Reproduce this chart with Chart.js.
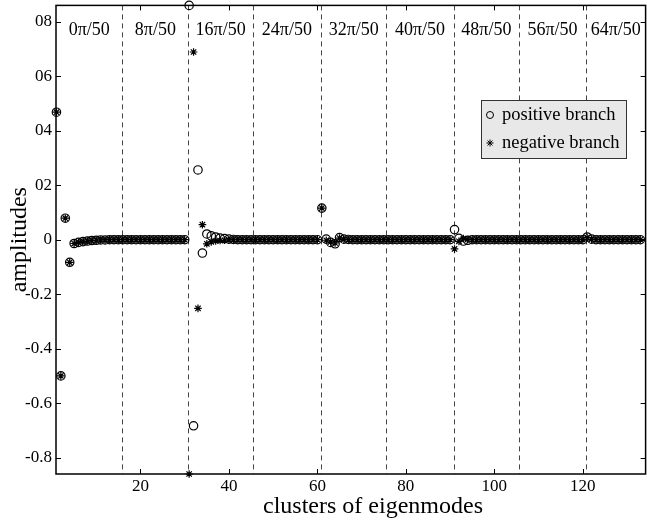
<!DOCTYPE html>
<html>
<head>
<meta charset="utf-8">
<script src="https://cdn.jsdelivr.net/npm/chart.js@4.4.1/dist/chart.umd.min.js"></script>
<style>
  html, body { margin: 0; padding: 0; background: #fff; overflow: hidden; }
  #wrap { width: 647px; height: 524px; overflow: hidden; }
</style>
</head>
<body>
<div id="wrap"><canvas id="chart" width="651" height="524" style="width:651px;height:524px"></canvas></div>
<script>
// one row per cluster of 15 eigenmodes (x = 1..133)
const positiveBranch = [
  0.468, -0.500, 0.079, -0.083, -0.014, -0.010, -0.007, -0.005, -0.003, -0.002, -0.001, -0.001, 0, 0, 0,
  0, 0, 0, 0, 0, 0, 0, 0, 0, 0, 0, 0, 0, 0, 0,
  0.860, -0.683, 0.256, -0.049, 0.021, 0.014, 0.010, 0.006, 0.004, 0.002, 0.001, 0, 0, 0, 0,
  0, 0, 0, 0, 0, 0, 0, 0, 0, 0, 0, 0, 0, 0, 0,
  0.116, 0.002, -0.010, -0.015, 0.008, 0.002, 0.001, 0, 0, 0, 0, 0, 0, 0, 0,
  0, 0, 0, 0, 0, 0, 0, 0, 0, 0, 0, 0, 0, 0, 0,
  0.037, 0.005, -0.005, -0.002, 0, 0, 0, 0, 0, 0, 0, 0, 0, 0, 0,
  0, 0, 0, 0, 0, 0, 0, 0, 0, 0, 0, 0, 0, 0, 0,
  0.010, 0.002, 0, 0, 0, 0, 0, 0, 0, 0, 0, 0, 0
];
const negativeBranch = [
  0.468, -0.500, 0.079, -0.083, -0.014, -0.010, -0.007, -0.005, -0.003, -0.002, -0.001, -0.001, 0, 0, 0,
  0, 0, 0, 0, 0, 0, 0, 0, 0, 0, 0, 0, 0, 0, 0,
  -0.860, 0.689, -0.252, 0.055, -0.015, -0.008, -0.005, -0.003, -0.002, -0.001, 0, 0, 0, 0, 0,
  0, 0, 0, 0, 0, 0, 0, 0, 0, 0, 0, 0, 0, 0, 0,
  0.116, -0.002, -0.008, -0.012, 0.006, 0.001, 0, 0, 0, 0, 0, 0, 0, 0, 0,
  0, 0, 0, 0, 0, 0, 0, 0, 0, 0, 0, 0, 0, 0, 0,
  -0.034, -0.006, 0.004, 0.001, 0, 0, 0, 0, 0, 0, 0, 0, 0, 0, 0,
  0, 0, 0, 0, 0, 0, 0, 0, 0, 0, 0, 0, 0, 0, 0,
  0.008, 0.001, 0, 0, 0, 0, 0, 0, 0, 0, 0, 0, 0
];
const separators = [15.9, 30.85, 45.4, 60.8, 75.6, 90.8, 105.6, 120.7];
const segmentLabels = ["0\u03c0/50", "8\u03c0/50", "16\u03c0/50", "24\u03c0/50", "32\u03c0/50", "40\u03c0/50", "48\u03c0/50", "56\u03c0/50", "64\u03c0/50"];
const xTickValues = [20, 40, 60, 80, 100, 120];
const yTickValues = [-0.8, -0.6, -0.4, -0.2, 0, 0.2, 0.4, 0.6, 0.8];
const yTickLabels = ["-0.8", "-0.6", "-0.4", "-0.2", "0", "02", "04", "06", "08"];

const SERIF = '"Liberation Serif", "Times New Roman", serif';

const toPoints = (arr) => arr.map((v, i) => ({ x: i + 1, y: v }));

const framePlugin = {
  id: "frame",
  beforeDatasetsDraw(chart) {
    const { ctx, chartArea: a, scales: { x, y } } = chart;
    ctx.save();
    // dashed cluster separators
    ctx.strokeStyle = "#444";
    ctx.lineWidth = 1;
    ctx.setLineDash([5, 4]);
    separators.forEach((v) => {
      const px = Math.round(x.getPixelForValue(v)) + 0.5;
      ctx.beginPath();
      ctx.moveTo(px, a.top);
      ctx.lineTo(px, a.bottom);
      ctx.stroke();
    });
    ctx.setLineDash([]);

    // segment labels
    ctx.fillStyle = "#000";
    ctx.font = "18px " + SERIF;
    ctx.textAlign = "center";
    ctx.textBaseline = "alphabetic";
    const edges = [x.min, ...separators, x.max];
    segmentLabels.forEach((t, i) => {
      const cx = (x.getPixelForValue(edges[i]) + x.getPixelForValue(edges[i + 1])) / 2;
      ctx.fillText(t, cx, a.top + 30);
    });

    // box
    ctx.strokeStyle = "#000";
    ctx.lineWidth = 1.5;
    ctx.strokeRect(a.left, a.top, a.right - a.left, a.bottom - a.top);

    // inward ticks
    ctx.lineWidth = 1;
    const tl = 5;
    xTickValues.forEach((v) => {
      const px = Math.round(x.getPixelForValue(v)) + 0.5;
      ctx.beginPath();
      ctx.moveTo(px, a.bottom); ctx.lineTo(px, a.bottom - tl);
      ctx.moveTo(px, a.top); ctx.lineTo(px, a.top + tl);
      ctx.stroke();
    });
    yTickValues.forEach((v) => {
      const py = Math.round(y.getPixelForValue(v)) + 0.5;
      ctx.beginPath();
      ctx.moveTo(a.left, py); ctx.lineTo(a.left + tl, py);
      ctx.moveTo(a.right, py); ctx.lineTo(a.right - tl, py);
      ctx.stroke();
    });

    // x axis title
    ctx.font = "24px " + SERIF;
    ctx.textBaseline = "middle";
    ctx.fillText("clusters of eigenmodes", 373, 507);
    ctx.restore();
  },
  afterDraw(chart) {
    const { ctx } = chart;
    const box = { left: 481, top: 100, width: 145, height: 58 };
    ctx.save();
    ctx.fillStyle = "#e8e8e8";
    ctx.fillRect(box.left, box.top, box.width, box.height);
    ctx.strokeStyle = "#333";
    ctx.lineWidth = 1;
    ctx.strokeRect(box.left + 0.5, box.top + 0.5, box.width, box.height);
    chart.data.datasets.forEach((ds, i) => {
      const cy = box.top + 15 + i * 28;
      ctx.strokeStyle = "#000";
      ctx.fillStyle = "rgba(0,0,0,0)";
      ctx.lineWidth = 1;
      Chart.helpers.drawPoint(ctx, { pointStyle: ds.pointStyle, radius: 3.5, rotation: 0, borderWidth: 1 }, box.left + 9, cy);
      ctx.fillStyle = "#000";
      ctx.font = "18.5px " + SERIF;
      ctx.textAlign = "left";
      ctx.textBaseline = "middle";
      ctx.fillText(ds.label, box.left + 21, cy);
    });
    ctx.restore();
  }
};

new Chart(document.getElementById("chart"), {
  type: "scatter",
  data: {
    datasets: [
      {
        label: "positive branch",
        data: toPoints(positiveBranch),
        pointStyle: "circle",
        pointRadius: 4.2,
        borderColor: "#000",
        backgroundColor: "rgba(0,0,0,0)",
        borderWidth: 1.2,
        clip: false,
      },
      {
        label: "negative branch",
        data: toPoints(negativeBranch),
        pointStyle: "star",
        pointRadius: 3.8,
        borderColor: "#000",
        backgroundColor: "rgba(0,0,0,0)",
        borderWidth: 1.2,
        clip: false,
      },
    ],
  },
  options: {
    responsive: false,
    animation: false,
    layout: { padding: { top: 5, right: 2, left: 0, bottom: 0 } },
    scales: {
      x: {
        type: "linear",
        min: 0.9,
        max: 134.2,
        afterFit(s) { s.height = 50; s.paddingLeft = 0; s.paddingRight = 0; },
        afterBuildTicks(s) { s.ticks = xTickValues.map((v) => ({ value: v })); },
        ticks: { font: { family: SERIF, size: 17 }, color: "#000", padding: 2, maxRotation: 0 },
        grid: { display: false, drawTicks: false },
        border: { display: false },
      },
      y: {
        min: -0.86,
        max: 0.86,
        afterFit(s) { s.width = 56; s.paddingTop = 0; s.paddingBottom = 0; },
        afterBuildTicks(s) { s.ticks = yTickValues.map((v) => ({ value: v })); },
        ticks: {
          font: { family: SERIF, size: 17 },
          color: "#000",
          padding: 4,
          callback: (v, i) => yTickLabels[i],
        },
        grid: { display: false, drawTicks: false },
        border: { display: false },
        title: {
          display: true,
          text: "amplitudes",
          color: "#000",
          font: { family: SERIF, size: 24 },
          padding: { top: 5, bottom: 0 },
        },
      },
    },
    plugins: {
      legend: { display: false },
      tooltip: { enabled: false },
    },
  },
  plugins: [framePlugin],
});
</script>
</body>
</html>
